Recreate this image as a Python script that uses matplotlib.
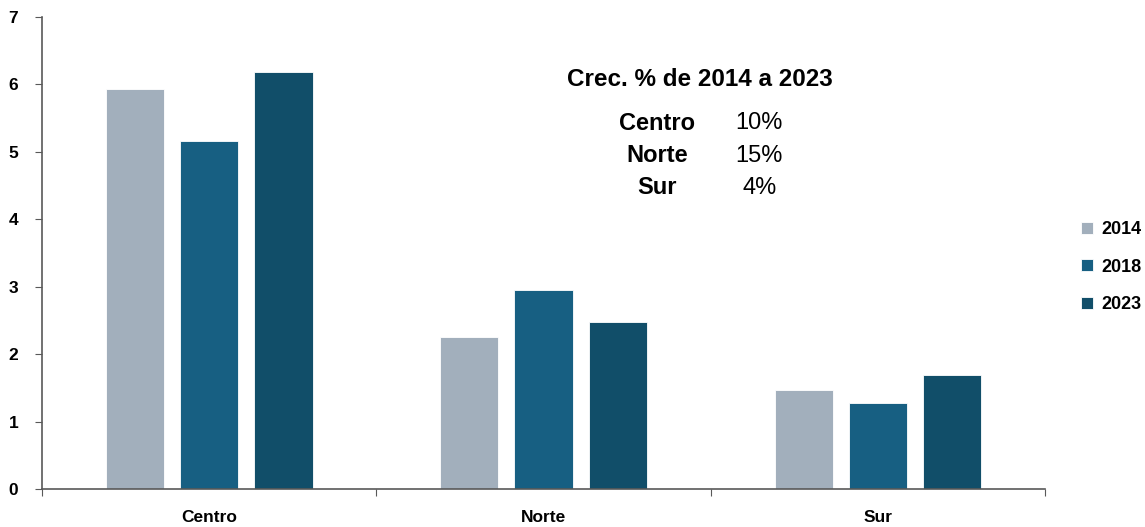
import numpy as np
import matplotlib.pyplot as plt

# Datos por región y año
regiones = ['Centro', 'Norte', 'Sur']
anios = ['2014', '2018', '2023']
v2014 = [5.93, 2.26, 1.47]
v2018 = [5.16, 2.95, 1.27]
v2023 = [6.19, 2.47, 1.69]
crec_regiones = ['Centro', 'Norte', 'Sur']
crec_valores = ['10%', '15%', '4%']

colores = ['#A2AFBC', '#175F82', '#114E69']
series = [v2014, v2018, v2023]

plt.rcParams['font.family'] = ['Liberation Sans', 'DejaVu Sans']

fig = plt.figure(figsize=(11.45, 5.27), dpi=100)
ax = fig.add_axes([0.0367, 0.0721, 0.876, 0.8956])

x = np.arange(len(regiones))
ancho = 0.174
paso = 0.222
for i, (vals, col, lab) in enumerate(zip(series, colores, anios)):
    ax.bar(x + (i - 1) * paso, vals, width=ancho, color=col, label=lab,
           edgecolor='white', linewidth=0.6)

ax.set_xlim(-0.5, 2.5)
ax.set_ylim(0, 7)
ax.set_yticks(range(0, 8))
ax.set_xticks([-0.5, 0.5, 1.5, 2.5])
ax.set_xticklabels([])
ax.set_xticks(x, minor=True)
ax.set_xticklabels(regiones, minor=True, fontsize=12.5, fontweight='bold')
ax.tick_params(axis='x', which='minor', length=0, pad=15)
ax.tick_params(axis='x', which='major', length=5, color='#595959', direction='out')
ax.tick_params(axis='y', length=5, color='#595959', labelsize=12.5, pad=19)
for t in ax.get_yticklabels():
    t.set_fontweight('bold')
    t.set_horizontalalignment('left')

for s in ['top', 'right']:
    ax.spines[s].set_visible(False)
for s in ['left', 'bottom']:
    ax.spines[s].set_color('#595959')
    ax.spines[s].set_linewidth(1.2)

# Cuadro de crecimiento
ax.text(0.656, 0.867, 'Crec. % de 2014 a 2023', transform=ax.transAxes,
        ha='center', va='center', fontsize=17.5, fontweight='bold')
for k, (reg, val) in enumerate(zip(crec_regiones, crec_valores)):
    y = 0.775 - k * 0.0685
    ax.text(0.613, y, reg, transform=ax.transAxes, ha='center', va='center',
            fontsize=17, fontweight='bold')
    ax.text(0.715, y, val, transform=ax.transAxes, ha='center', va='center',
            fontsize=17)

leg = ax.legend(loc='center left', bbox_to_anchor=(1.036, 0.47), frameon=False,
                prop={'weight': 'bold', 'size': 13}, handlelength=0.65,
                handleheight=0.65, handletextpad=0.45, labelspacing=1.15,
                borderaxespad=0, borderpad=0)

fig.savefig('out.png', dpi=100)
